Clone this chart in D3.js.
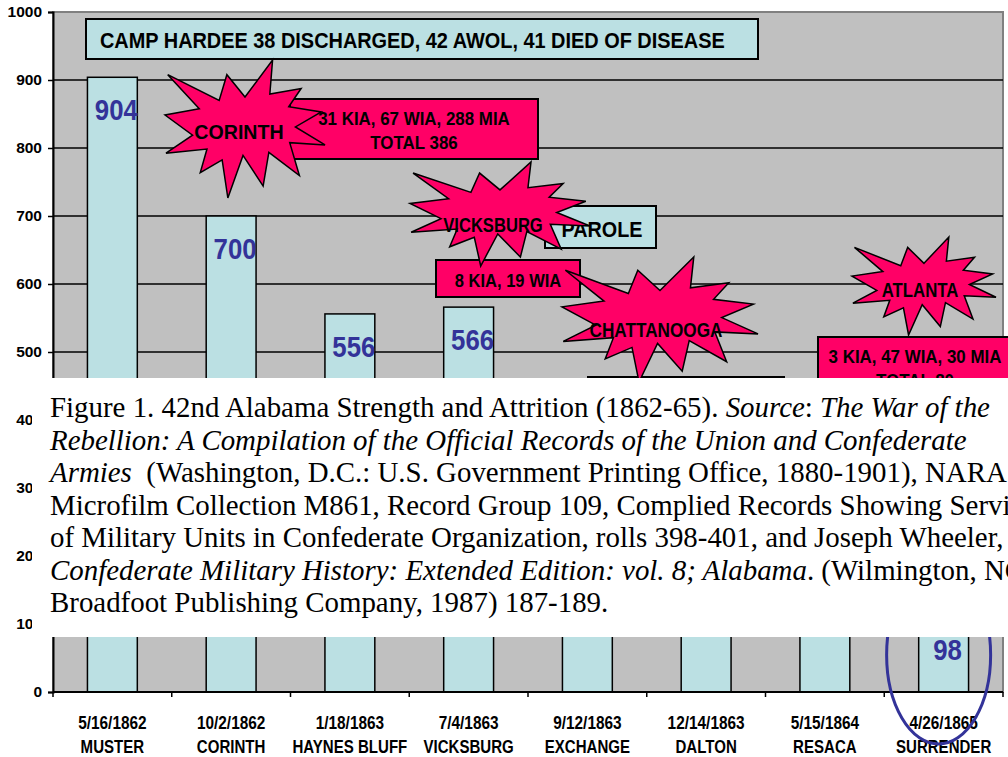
<!DOCTYPE html>
<html>
<head>
<meta charset="utf-8">
<script src="https://cdn.jsdelivr.net/npm/d3@7"></script>
<style>
  html, body { margin: 0; padding: 0; background: #fff; }
  svg { display: block; }
</style>
</head>
<body>
<svg id="chart" width="1008" height="757"></svg>
<script>
// ---- data ----
var dates = ["5/16/1862", "10/2/1862", "1/18/1863", "7/4/1863", "9/12/1863", "12/14/1863", "5/15/1864", "4/26/1865"];
var places = ["MUSTER", "CORINTH", "HAYNES BLUFF", "VICKSBURG", "EXCHANGE", "DALTON", "RESACA", "SURRENDER"];
// bars 5-7 are hidden behind the caption in the picture, values are guesses
var strength = [904, 700, 556, 566, 450, 380, 300, 98];
var yTicks = [0, 100, 200, 300, 400, 500, 600, 700, 800, 900, 1000];

var campNote = "CAMP HARDEE 38 DISCHARGED, 42 AWOL, 41 DIED OF DISEASE";
var corinthNote = ["31 KIA, 67 WIA, 288 MIA", "TOTAL 386"];
var vicksburgNote = "8 KIA, 19 WIA";
var atlantaNote = ["3 KIA, 47 WIA, 30 MIA", "TOTAL 80"];

var captionLines = [
  [["Figure 1. 42nd Alabama Strength and Attrition (1862-65). ", 0], ["Source", 1], [": ", 0], ["The War of the", 1]],
  [["Rebellion: A Compilation of the Official Records of the Union and Confederate", 1]],
  [["Armies", 1], ["  (Washington, D.C.: U.S. Government Printing Office, 1880-1901), NARA", 0]],
  [["Microfilm Collection M861, Record Group 109, Complied Records Showing Service", 0]],
  [["of Military Units in Confederate Organization, rolls 398-401, and Joseph Wheeler, ", 0]],
  [["Confederate Military History: Extended Edition: vol. 8; Alabama", 1], [". (Wilmington, NC:", 0]],
  [["Broadfoot Publishing Company, 1987) 187-189.", 0]]
];

// Office "explosion 1" outline (21600 grid)
var sealPts = [[10800,5800],[14522,0],[14155,5325],[18380,4457],[16702,7315],[21097,8137],[17607,10475],
  [21600,13290],[16837,12942],[18145,18095],[14020,14457],[13247,19737],[10532,14935],[8485,21600],
  [7715,15627],[4762,17617],[5667,13937],[135,14587],[3722,11775],[0,8615],[4627,7617],[370,2295],
  [7312,6320],[8352,2295]];

var svg = d3.select("#chart");
var width = 1008, height = 757;
var margin = {top: 12, left: 53};
var plotW = 950, plotH = 680;
var capTop = 378, capBottom = 637;

var PINK = "#ff0066", CYAN = "#bbe0e3", BLUE = "#333399";
var FONT = "'Liberation Sans', Arial, sans-serif";

var xScale = d3.scaleBand()
  .domain(places)
  .range([margin.left, margin.left + plotW])
  .paddingInner(0.58)
  .paddingOuter(0.29);

var yScale = d3.scaleLinear()
  .domain([0, 1000])
  .range([margin.top + plotH, margin.top]);

function txt(sel, s, x, y, size, sx, anchor) {
  return sel.append("text")
    .attr("transform", "translate(" + x + "," + y + ") scale(" + sx + ",1)")
    .attr("text-anchor", anchor || "middle")
    .style("font-family", FONT)
    .style("font-weight", "bold")
    .style("font-size", size + "px")
    .text(s);
}

function box(sel, x, y, w, h, fill) {
  return sel.append("rect")
    .attr("x", x).attr("y", y).attr("width", w).attr("height", h)
    .attr("fill", fill).attr("stroke", "#000").attr("stroke-width", 2);
}

var sealLine = d3.line();
function seal(sel, x0, y0, w, h) {
  var pts = sealPts.map(function(p) { return [x0 + p[0] / 21600 * w, y0 + p[1] / 21600 * h]; });
  return sel.append("path")
    .attr("d", sealLine(pts) + "Z")
    .attr("fill", PINK).attr("stroke", "#000").attr("stroke-width", 1.5)
    .attr("stroke-linejoin", "miter");
}

// plot area
svg.append("rect")
  .attr("x", margin.left).attr("y", margin.top)
  .attr("width", plotW).attr("height", plotH)
  .attr("fill", "#c0c0c0").attr("stroke", "#808080").attr("stroke-width", 2);

// gridlines
svg.append("g").selectAll("line")
  .data(yTicks.filter(function(d) { return d > 0 && d < 1000; }))
  .enter().append("line")
  .attr("x1", margin.left).attr("x2", margin.left + plotW)
  .attr("y1", function(d) { return yScale(d); })
  .attr("y2", function(d) { return yScale(d); })
  .attr("stroke", "#000").attr("stroke-width", 1.5);

// bars
svg.append("g").selectAll("rect")
  .data(strength)
  .enter().append("rect")
  .attr("x", function(d, i) { return xScale(places[i]); })
  .attr("y", function(d) { return yScale(d); })
  .attr("width", xScale.bandwidth())
  .attr("height", function(d) { return yScale(0) - yScale(d); })
  .attr("fill", CYAN).attr("stroke", "#000").attr("stroke-width", 1.5);

// value labels (those that would sit under the pasted caption are not shown)
var vals = svg.append("g");
strength.forEach(function(d, i) {
  var ly = yScale(d) + 43;
  if (ly > capTop && ly - 22 < capBottom && ly < capBottom + 10 && d > 120) return;
  txt(vals, String(d), xScale(places[i]) + xScale.bandwidth() / 2 + 4, d < 120 ? yScale(d) + 35 : ly, 30, 0.86)
    .attr("fill", BLUE);
});

// y axis
var yAxis = d3.axisLeft(yScale).tickValues(yTicks).tickFormat(d3.format("d")).tickSize(5).tickPadding(6);
var gy = svg.append("g")
  .attr("transform", "translate(" + margin.left + ",0)")
  .call(yAxis);
gy.select(".domain").attr("stroke", "#000").attr("stroke-width", 2);
gy.selectAll(".tick line").attr("stroke", "#000").attr("stroke-width", 1.5);
gy.selectAll(".tick text")
  .style("font-family", FONT).style("font-weight", "bold").style("font-size", "15.5px")
  .attr("fill", "#000");

// x axis
var step = xScale.step();
var gx = svg.append("g");
gx.append("line")
  .attr("x1", margin.left).attr("x2", margin.left + plotW)
  .attr("y1", yScale(0)).attr("y2", yScale(0))
  .attr("stroke", "#000").attr("stroke-width", 2);
gx.selectAll(".xt")
  .data(d3.range(places.length + 1))
  .enter().append("line")
  .attr("x1", function(i) { return margin.left + i * step; })
  .attr("x2", function(i) { return margin.left + i * step; })
  .attr("y1", yScale(0)).attr("y2", yScale(0) + 5)
  .attr("stroke", "#000").attr("stroke-width", 1.5);
places.forEach(function(p, i) {
  var cx = xScale(p) + xScale.bandwidth() / 2;
  txt(gx, dates[i], cx, 729, 17.5, 0.88);
  txt(gx, p, cx, 753, 17.5, 0.86);
});

// annotations
var ann = svg.append("g");
box(ann, 86, 19, 672, 40, CYAN);
txt(ann, campNote, 100, 48, 22, 0.905, "start");

box(ann, 290, 99, 248, 60, PINK);
txt(ann, corinthNote[0], 414, 125, 18, 0.94);
txt(ann, corinthNote[1], 414, 149, 18, 0.94);
seal(ann, 165, 60, 160, 138);
txt(ann, "CORINTH", 239, 139, 20, 0.98);

box(ann, 545, 206, 111, 42, CYAN);
txt(ann, "PAROLE", 602, 237, 22, 0.9);
box(ann, 436, 260, 144, 37, PINK);
txt(ann, vicksburgNote, 508, 287, 18, 0.92);
seal(ann, 410, 162, 180, 104);
txt(ann, "VICKSBURG", 493, 232, 20, 0.83);

box(ann, 588, 377, 196, 50, PINK);
seal(ann, 562, 257, 196, 125);
txt(ann, "CHATTANOOGA", 656, 337, 20, 0.86);

box(ann, 818, 337, 200, 60, PINK);
txt(ann, atlantaNote[0], 915, 363, 18, 0.94);
txt(ann, atlantaNote[1], 915, 387, 18, 0.94);
seal(ann, 852, 237, 144, 98);
txt(ann, "ATLANTA", 920, 297, 20, 0.84);

// circle round the surrender bar
svg.append("ellipse")
  .attr("cx", xScale("SURRENDER") + xScale.bandwidth() / 2 - 5)
  .attr("cy", 655).attr("rx", 52).attr("ry", 89)
  .attr("fill", "none").attr("stroke", BLUE).attr("stroke-width", 3);

// caption pasted over the chart
var cap = svg.append("g");
cap.append("rect")
  .attr("x", 32).attr("y", capTop).attr("width", width - 32).attr("height", capBottom - capTop)
  .attr("fill", "#fff");
var capText = cap.append("text")
  .style("font-family", "'Liberation Serif', 'Times New Roman', serif")
  .style("font-size", "28.9px")
  .style("white-space", "pre")
  .attr("fill", "#000");
captionLines.forEach(function(line, i) {
  var t = capText.append("tspan").attr("x", 50).attr("y", 417 + i * 32.5);
  line.forEach(function(run, j) {
    var s = j === 0 ? t : capText.append("tspan");
    s.text(run[0]).style("font-style", run[1] ? "italic" : "normal");
  });
});
</script>
</body>
</html>
